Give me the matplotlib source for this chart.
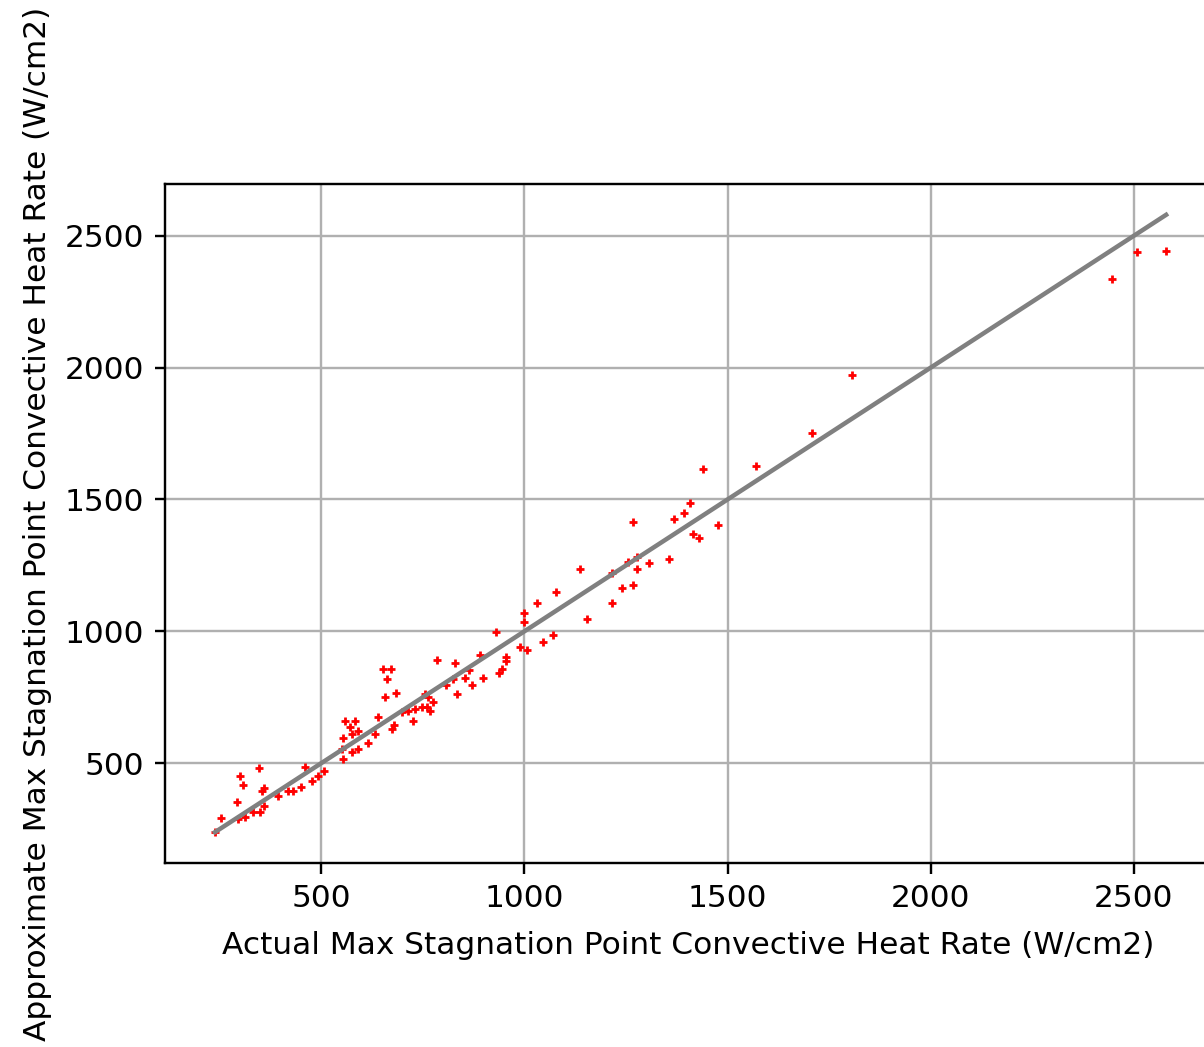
import numpy as np
import matplotlib
matplotlib.use('Agg')
import matplotlib.pyplot as plt

# actual vs approximate max stagnation point convective heat rate (W/cm2)
actual = [239, 254, 293, 301, 308, 296, 313, 347, 360, 355,
          360, 350, 333, 394, 419, 431, 451, 461, 478, 493,
          507, 554, 554, 552, 559, 584, 571, 576, 591, 576,
          591, 616, 633, 640, 653, 672, 662, 657, 685, 675,
          680, 699, 714, 731, 726, 756, 748, 1078, 1031, 1216,
          999, 999, 1154, 930, 1071, 1046, 990, 1007, 785, 830,
          955, 955, 891, 945, 938, 864, 854, 899, 825, 808,
          871, 835, 763, 761, 776, 768, 1440, 1570, 1408, 1393,
          1368, 1268, 1477, 1415, 1430, 1277, 1356, 1255, 1307, 1277,
          1216, 1268, 1240, 1137, 1806, 1708, 2446, 2507, 2579]
approx = [239, 292, 353, 451, 417, 288, 296, 481, 405, 394,
          337, 315, 315, 375, 394, 394, 409, 485, 432, 451,
          470, 515, 595, 553, 659, 659, 636, 610, 621, 542,
          553, 576, 610, 674, 859, 859, 818, 753, 768, 629,
          647, 693, 697, 704, 659, 761, 715, 1150, 1109, 1109,
          1071, 1037, 1048, 999, 988, 961, 942, 931, 893, 882,
          904, 886, 912, 859, 844, 855, 825, 825, 818, 795,
          795, 761, 753, 715, 731, 697, 1615, 1626, 1487, 1449,
          1426, 1415, 1403, 1369, 1354, 1282, 1275, 1264, 1260, 1237,
          1222, 1177, 1165, 1237, 1970, 1751, 2337, 2439, 2443]

k = 2.16  # original was drawn small, scale everything up
plt.rcParams['font.size'] = 22.5
plt.rcParams['axes.linewidth'] = 0.8 * k
plt.rcParams['grid.linewidth'] = 0.8 * k
for a in ['xtick', 'ytick']:
    plt.rcParams[a + '.major.size'] = 3.5 * k
    plt.rcParams[a + '.major.width'] = 0.8 * k
    plt.rcParams[a + '.major.pad'] = 3.5 * k
plt.rcParams['axes.labelpad'] = 4 * k

fig = plt.figure(figsize=(12.04, 10.47), dpi=100)
ax = fig.add_axes([0.137, 0.1757, 0.869, 0.6486])

ax.plot(actual, approx, '+', color='red', ms=6, mew=2)
lo = min(actual)
hi = max(actual)
ax.plot([lo, hi], [lo, hi], color='gray', lw=1.5 * k)
ax.set_xlim(116, 2690)
ax.grid(True)
ax.set_axisbelow(True)
ax.set_xlabel('Actual Max Stagnation Point Convective Heat Rate (W/cm2)', labelpad=13)
ax.set_ylabel('Approximate Max Stagnation Point Convective Heat Rate (W/cm2)')

fig.savefig('out.png', dpi=100)
